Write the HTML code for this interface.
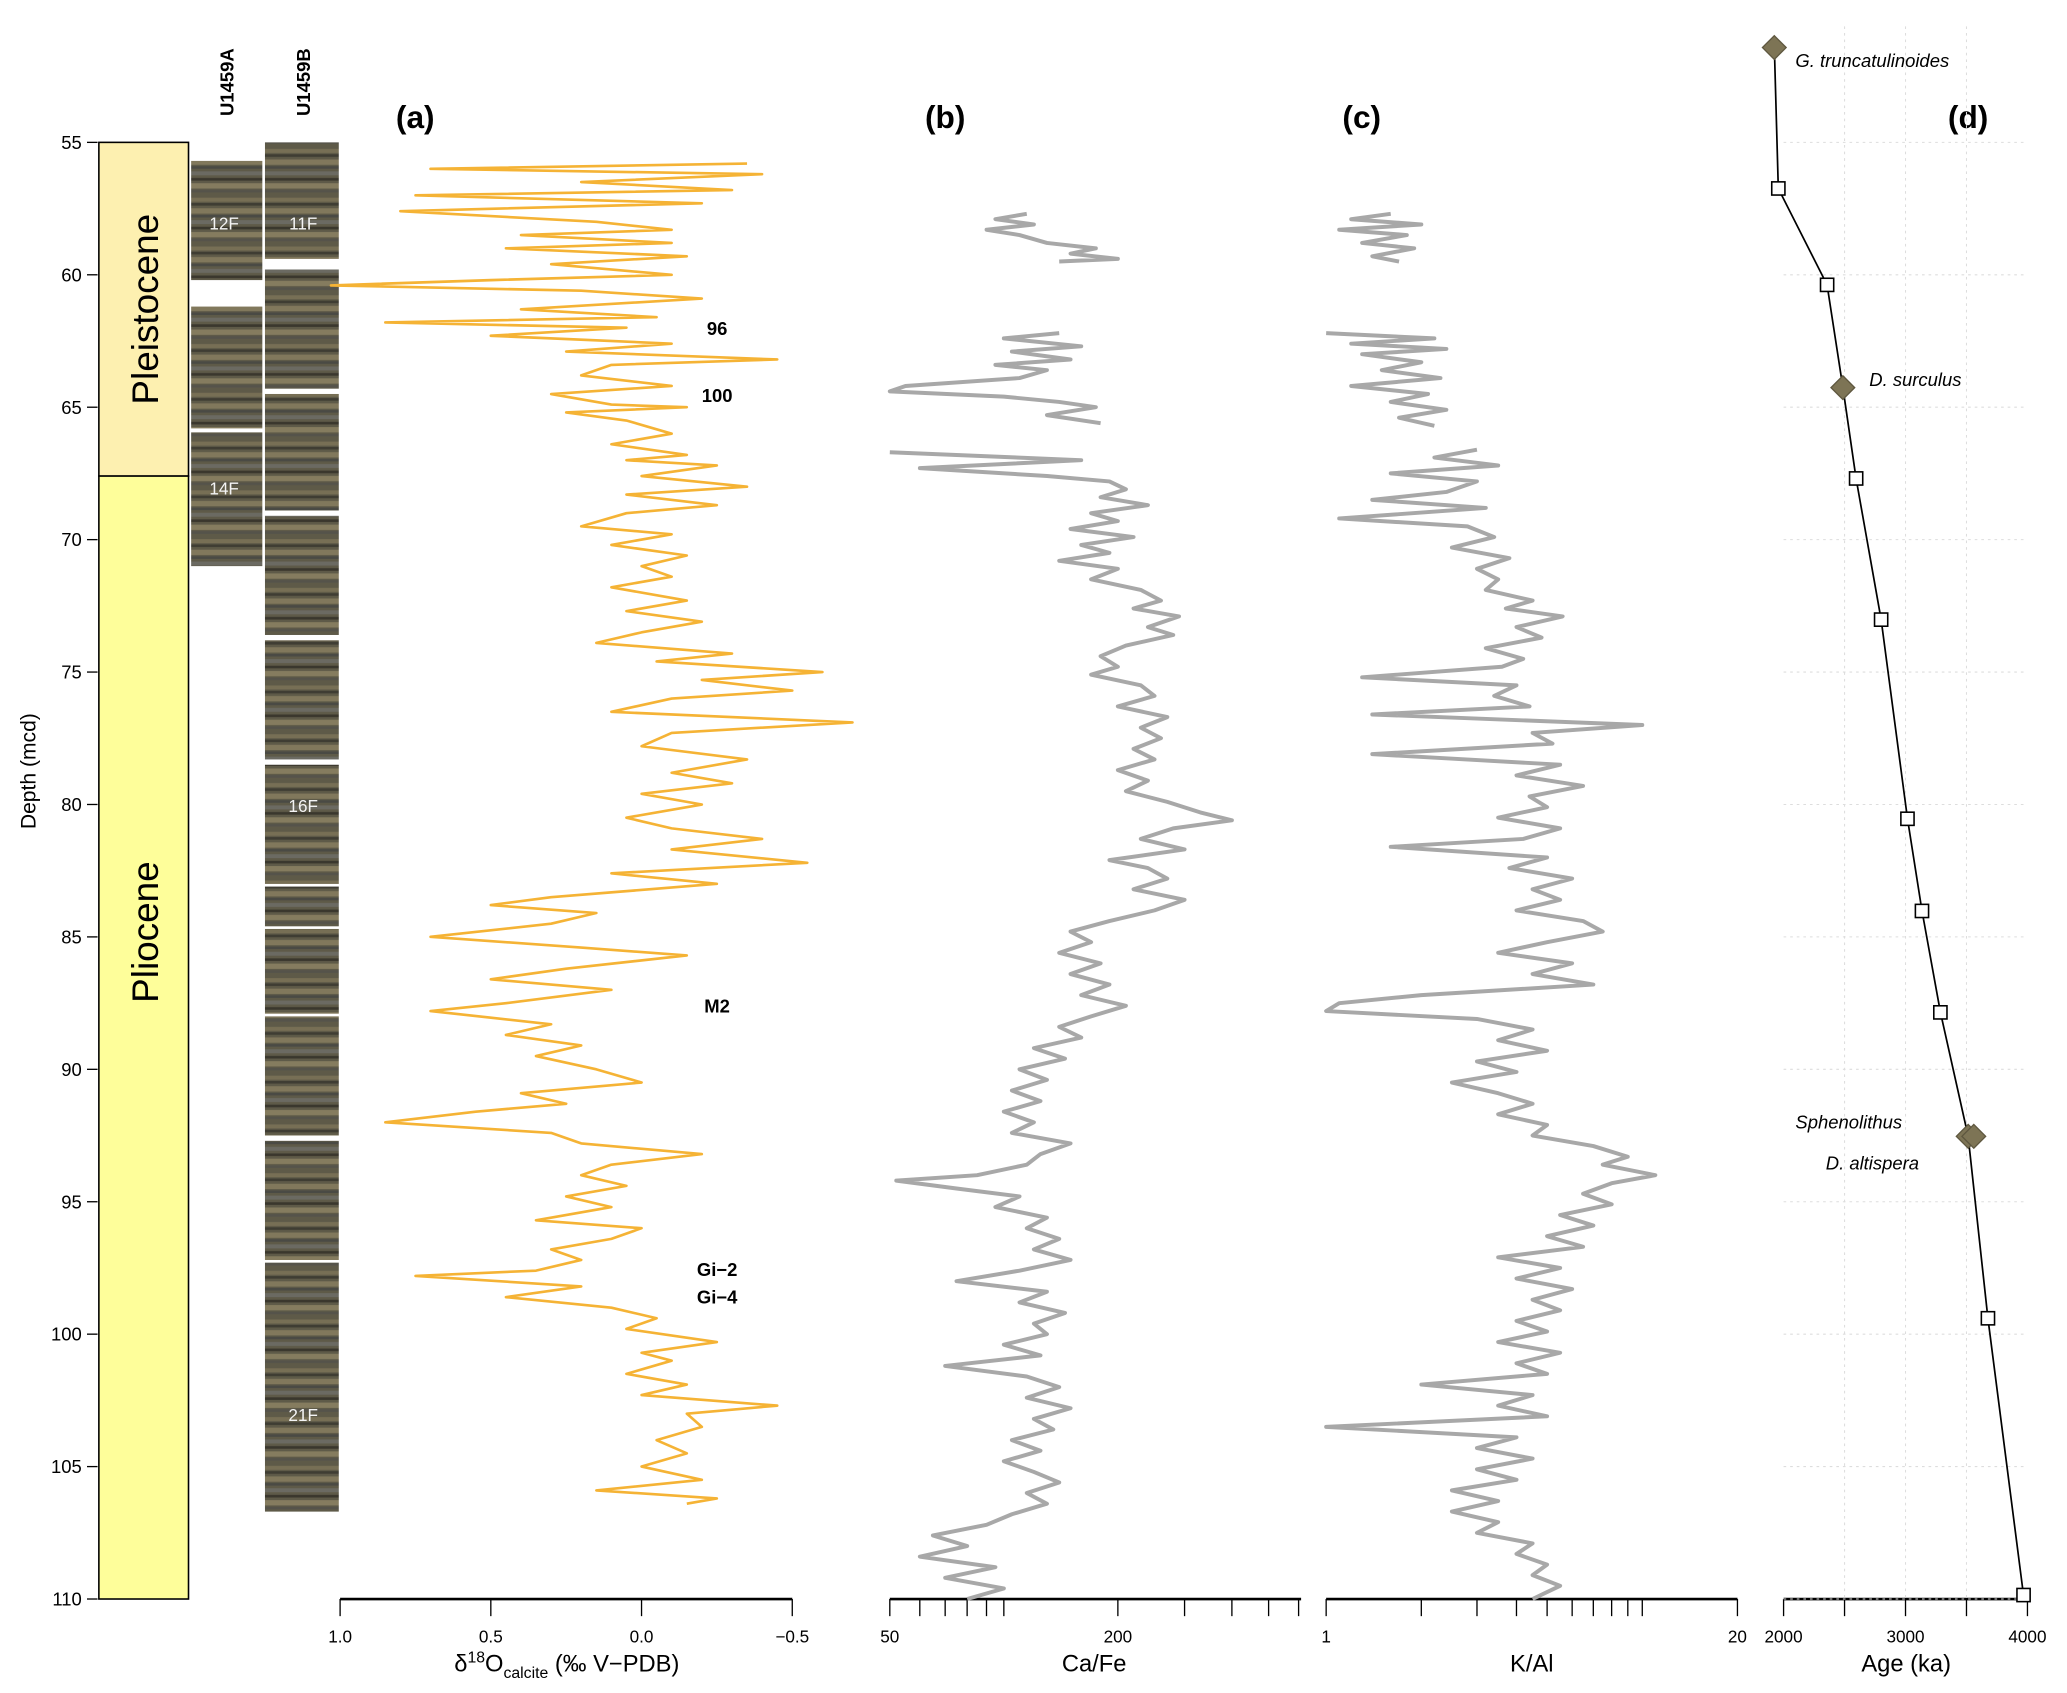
<!DOCTYPE html>
<html><head><meta charset="utf-8"><style>
html,body{margin:0;padding:0;background:#fff;}
svg{display:block;font-family:"Liberation Sans",Arial,sans-serif;}
</style></head><body>
<svg id="chart" xmlns="http://www.w3.org/2000/svg" width="2067" height="1693" viewBox="0 0 1568 1284.3" preserveAspectRatio="none">
<defs>
<pattern id="coreTex" patternUnits="userSpaceOnUse" width="60" height="37">
<rect width="60" height="37" fill="#5e5a48"/>
<rect y="2" width="60" height="3" fill="#776f55"/>
<rect y="6" width="60" height="2" fill="#3f3d33"/>
<rect y="10" width="60" height="4" fill="#81785c"/>
<rect y="15" width="60" height="2" fill="#4a4a44"/>
<rect y="19" width="60" height="3" fill="#6b6a62"/>
<rect y="24" width="60" height="2" fill="#3a372d"/>
<rect y="28" width="60" height="4" fill="#857c5f"/>
<rect y="33" width="60" height="2" fill="#55534a"/>
</pattern>
</defs>
<g id="base"></g>
<g id="plots"></g>
</svg>
<script>
// ---------- data ----------
const o18Depth=[55.8,56.0,56.2,56.5,56.8,57.0,57.3,57.6,58.0,58.3,58.5,58.8,59.0,59.3,59.6,60.0,60.2,60.4,60.6,60.9,61.3,61.6,61.8,62.0,62.3,62.6,62.9,63.2,63.4,63.8,64.2,64.5,64.9,65.0,65.2,65.5,66.0,66.4,66.8,67.0,67.2,67.6,68.0,68.3,68.7,69.0,69.5,69.8,70.2,70.6,71.0,71.4,71.8,72.3,72.7,73.1,73.5,73.9,74.3,74.6,75.0,75.3,75.7,76.0,76.5,76.9,77.3,77.8,78.3,78.8,79.2,79.6,80.0,80.5,80.9,81.3,81.7,82.2,82.6,83.0,83.5,83.8,84.1,84.5,85.0,85.4,85.7,86.2,86.6,87.0,87.5,87.8,88.3,88.7,89.1,89.5,90.0,90.5,90.9,91.3,91.6,92.0,92.4,92.8,93.2,93.6,94.0,94.4,94.8,95.2,95.7,96.0,96.4,96.8,97.2,97.6,97.8,98.2,98.6,99.0,99.4,99.8,100.3,100.7,101.0,101.5,101.9,102.3,102.7,103.0,103.5,104.0,104.5,105.0,105.5,105.9,106.2,106.4];
const o18Value=[-0.35,0.7,-0.4,0.2,-0.3,0.75,-0.2,0.8,0.15,-0.1,0.4,-0.1,0.45,-0.15,0.3,-0.1,0.5,1.03,0.2,-0.2,0.4,-0.05,0.85,0.05,0.5,-0.1,0.25,-0.45,0.1,0.2,-0.1,0.3,0.1,-0.15,0.25,0.05,-0.1,0.1,-0.15,0.05,-0.25,0.0,-0.35,0.05,-0.25,0.05,0.2,-0.1,0.1,-0.15,0.0,-0.1,0.1,-0.15,0.05,-0.2,0.0,0.15,-0.3,-0.05,-0.6,-0.2,-0.5,-0.1,0.1,-0.7,-0.1,0.0,-0.35,-0.1,-0.3,0.0,-0.2,0.05,-0.1,-0.4,-0.1,-0.55,0.1,-0.25,0.3,0.5,0.15,0.3,0.7,0.2,-0.15,0.25,0.5,0.1,0.45,0.7,0.3,0.45,0.2,0.35,0.15,0.0,0.4,0.25,0.55,0.85,0.3,0.2,-0.2,0.1,0.2,0.05,0.25,0.1,0.35,0.0,0.1,0.3,0.2,0.35,0.75,0.2,0.45,0.1,-0.05,0.05,-0.25,0.0,-0.1,0.05,-0.15,0.0,-0.45,-0.15,-0.2,-0.05,-0.15,0.0,-0.2,0.15,-0.25,-0.15];

const caSegDepth=[
[57.7,57.9,58.1,58.3,58.5,58.8,59.0,59.2,59.4,59.5],
[62.2,62.4,62.7,62.9,63.2,63.4,63.6,63.9,64.2,64.4,64.6,64.8,65.0,65.3,65.6],
[66.7,67.0,67.3,67.6,67.8,68.1,68.4,68.7,69.0,69.3,69.6,69.9,70.2,70.5,70.8,71.1,71.5,71.9,72.3,72.6,72.9,73.3,73.6,74.0,74.4,74.8,75.1,75.5,75.9,76.3,76.7,77.1,77.5,77.9,78.3,78.7,79.1,79.5,79.9,80.3,80.6,80.9,81.3,81.7,82.1,82.4,82.8,83.2,83.6,84.0,84.4,84.8,85.2,85.6,86.0,86.4,86.8,87.2,87.6,88.0,88.4,88.8,89.2,89.6,90.0,90.4,90.8,91.2,91.6,92.0,92.4,92.8,93.2,93.6,94.0,94.2,94.5,94.8,95.2,95.6,96.0,96.4,96.8,97.2,97.6,98.0,98.4,98.8,99.2,99.6,100.0,100.4,100.8,101.2,101.6,102.0,102.4,102.8,103.2,103.6,104.0,104.4,104.8,105.2,105.6,106.0,106.4,106.8,107.2,107.6,108.0,108.4,108.8,109.2,109.6,110.0]];
const caSegValue=[
[115,95,120,90,110,130,175,150,200,140],
[140,100,160,105,150,95,130,110,55,50,100,140,175,130,180],
[50,160,60,130,190,210,180,240,170,200,150,220,160,190,140,200,170,230,260,220,290,240,280,210,180,200,170,230,250,200,270,230,260,220,250,200,240,210,270,330,400,280,230,300,190,240,270,220,300,250,190,150,170,140,180,150,190,160,210,170,140,160,120,145,110,130,105,125,100,120,105,150,125,115,85,52,75,110,95,130,115,140,120,150,110,75,130,110,145,120,130,100,125,70,115,140,115,150,120,135,105,125,100,120,140,115,130,105,90,65,80,60,95,70,100,80]];

const kSegDepth=[
[57.7,57.9,58.1,58.3,58.5,58.8,59.0,59.3,59.5],
[62.2,62.4,62.6,62.8,63.0,63.3,63.6,63.9,64.2,64.5,64.8,65.1,65.4,65.7],
[66.6,66.9,67.2,67.5,67.8,68.2,68.5,68.8,69.2,69.5,69.9,70.3,70.7,71.1,71.5,71.9,72.3,72.6,72.9,73.3,73.7,74.1,74.5,74.8,75.2,75.5,75.9,76.3,76.6,77.0,77.3,77.7,78.1,78.5,78.9,79.3,79.7,80.1,80.5,80.9,81.3,81.6,82.0,82.4,82.8,83.2,83.6,84.0,84.4,84.8,85.2,85.6,86.0,86.4,86.8,87.2,87.5,87.8,88.1,88.5,88.9,89.3,89.7,90.1,90.5,90.9,91.3,91.7,92.1,92.5,92.9,93.3,93.6,94.0,94.3,94.7,95.1,95.5,95.9,96.3,96.7,97.1,97.5,97.9,98.3,98.7,99.1,99.5,99.9,100.3,100.7,101.1,101.5,101.9,102.3,102.7,103.1,103.5,103.9,104.3,104.7,105.1,105.5,105.9,106.3,106.7,107.1,107.5,107.9,108.3,108.7,109.1,109.5,110.0]];
const kSegValue=[
[1.6,1.2,2.0,1.1,1.8,1.3,1.9,1.4,1.7],
[1.0,2.2,1.2,2.4,1.3,2.0,1.5,2.3,1.2,2.1,1.6,2.4,1.7,2.2],
[3.0,2.2,3.5,1.6,3.0,2.4,1.4,3.2,1.1,2.8,3.4,2.5,3.8,3.0,3.5,3.2,4.5,3.7,5.6,4.0,4.8,3.2,4.2,3.6,1.3,4.0,3.4,4.4,1.4,10,4.5,5.2,1.4,5.5,4.0,6.5,4.4,5.0,3.5,5.5,4.2,1.6,5.0,3.8,6.0,4.5,5.5,4.0,6.5,7.5,5.0,3.5,6.0,4.5,7.0,2.0,1.1,1.0,3.0,4.5,3.5,5.0,3.0,4.0,2.5,3.5,4.5,3.5,5.0,4.5,7.0,9.0,7.5,11,8.0,6.5,8.0,5.5,7.0,5.0,6.5,3.5,5.5,4.0,6.0,4.5,5.5,4.0,5.0,3.5,5.5,4.0,5.0,2.0,4.5,3.5,5.0,1.0,4.0,3.0,4.5,3.0,4.0,2.5,3.5,2.5,3.5,3.0,4.5,4.0,5.0,4.5,5.5,4.5]];

const ageDepth=[51.42,56.74,60.38,64.26,67.69,73.02,80.54,84.02,87.85,92.53,99.40,109.85];
const ageValue=[1924,1957,2357,2486,2595,2800,3016,3135,3286,3514,3676,3968];
const ageType=["d","s","s","d","s","s","s","s","s","d","s","s"];

const depthTicks=[55,60,65,70,75,80,85,90,95,100,105,110];
const o18Ticks=[1.0,0.5,0.0,-0.5];
const o18TickLabels=["1.0","0.5","0.0","\u22120.5"];
const caTicks=[50,60,70,80,90,100,200,300,400,500,600];
const caLabelled=[50,200];
const kTicks=[1,2,3,4,5,6,7,8,9,10,20];
const kLabelled=[1,20];
const ageTicks=[2000,2500,3000,3500,4000];
const ageLabelled=[2000,3000,4000];

// ---------- scales (display units) ----------
const Y=d=>108+(d-55)*(1213-108)/55;
const Xo=v=>258+(1.0-v)/1.5*(601-258);
const Xc=v=>675+173*Math.log(v/50)/Math.log(4);
const Xk=v=>1006+312*Math.log(v)/Math.log(20);
const Xa=v=>1353+(v-2000)*185/2000;

const NS="http://www.w3.org/2000/svg";
const base=document.getElementById('base');
const plots=document.getElementById('plots');
function mk(tag,attrs,parent,text){const e=document.createElementNS(NS,tag);for(const k in attrs)e.setAttribute(k,attrs[k]);if(text!==undefined)e.textContent=text;parent.appendChild(e);return e;}

// epoch column
let e=mk('rect',{x:75,y:108,width:68,height:Y(67.6)-108,fill:'#fdf0b0',stroke:'#000','stroke-width':1.2},base);


e=mk('rect',{x:75,y:Y(67.6),width:68,height:1213-Y(67.6),fill:'#fefe9a',stroke:'#000','stroke-width':1.2},base);


e=mk('text',{x:0,y:0,transform:`translate(120,${(108+Y(67.6))/2}) rotate(-90)`,'text-anchor':'middle','font-size':28},base,'Pleistocene');


e=mk('text',{x:0,y:0,transform:`translate(120,${(Y(67.6)+1213)/2-80}) rotate(-90)`,'text-anchor':'middle','font-size':28},base,'Pliocene');



// cores
const coreA=[[55.7,60.2],[61.2,65.8],[65.95,71.0]];
const coreB=[[55,59.4],[59.8,64.3],[64.5,68.9],[69.1,73.6],[73.8,78.3],[78.5,83.0],[83.1,84.6],[84.7,87.9],[88.0,92.5],[92.7,97.2],[97.3,106.7]];
coreA.forEach(s=>{const r=mk('rect',{x:145,y:Y(s[0]),width:54,height:Y(s[1])-Y(s[0]),fill:'url(#coreTex)'},base);

});
coreB.forEach(s=>{const r=mk('rect',{x:201,y:Y(s[0]),width:56,height:Y(s[1])-Y(s[0]),fill:'url(#coreTex)'},base);

});
[[170,174,'12F'],[230,174,'11F'],[170,375,'14F'],[230,616,'16F'],[230,1078,'21F']].forEach(c=>{const t=mk('text',{x:c[0],y:c[1],'text-anchor':'middle','font-size':13,fill:'#f4f4f4'},base,c[2]);

});
e=mk('text',{x:0,y:0,transform:'translate(177,88) rotate(-90)','font-size':14,'font-weight':'bold'},base,'U1459A');


e=mk('text',{x:0,y:0,transform:'translate(235,88) rotate(-90)','font-size':14,'font-weight':'bold'},base,'U1459B');



// depth axis
depthTicks.forEach(d=>{const l=mk('line',{x1:66,x2:74,y1:Y(d),y2:Y(d),stroke:'#000','stroke-width':1},base);


const t=mk('text',{x:62,y:Y(d)+5,'text-anchor':'end','font-size':14},base,String(d));

});
e=mk('text',{x:0,y:0,transform:'translate(27,585) rotate(-90)','text-anchor':'middle','font-size':16},base,'Depth (mcd)');



// bottom axes helper
function axis(x1,x2,ticks,X,labels,name){
 const l=mk('line',{x1:x1,x2:x2,y1:1213,y2:1213,stroke:'#000','stroke-width':2},base);
 
 
 ticks.forEach(v=>{const t=mk('line',{x1:X(v),x2:X(v),y1:1213,y2:1226,stroke:'#000','stroke-width':1},base);
 
 });
 labels.forEach(p=>{const t=mk('text',{x:X(p[0]),y:1246,'text-anchor':'middle','font-size':13},base,p[1]);
 
 });
}
axis(258,601,o18Ticks,Xo,o18Ticks.map((v,i)=>[v,o18TickLabels[i]]),'d18o');
axis(675,987,caTicks,Xc,caLabelled.map(v=>[v,String(v)]),'cafe');
axis(1006,1318,kTicks,Xk,kLabelled.map(v=>[v,String(v)]),'kal');
axis(1353,1538,ageTicks,Xa,ageLabelled.map(v=>[v,String(v)]),'age');

e=mk('text',{x:430,y:1268,'text-anchor':'middle','font-size':18},base);
e.innerHTML='δ<tspan dy="-7" font-size="12">18</tspan><tspan dy="7">O</tspan><tspan dy="5" font-size="12">calcite</tspan><tspan dy="-5"> (‰ V−PDB)</tspan>';


[[830,'Ca/Fe','cafe-axis-title'],[1162,'K/Al','kal-axis-title'],[1446,'Age (ka)','age-axis-title']].forEach(a=>{const t=mk('text',{x:a[0],y:1268,'text-anchor':'middle','font-size':18},base,a[1]);

});
[[315,'(a)'],[717,'(b)'],[1033,'(c)'],[1493,'(d)']].forEach(p=>{const t=mk('text',{x:p[0],y:97,'text-anchor':'middle','font-size':24,'font-weight':'bold'},base,p[1]);

});

// age panel grid
ageTicks.slice(1,4).forEach(v=>{const l=mk('line',{x1:Xa(v),x2:Xa(v),y1:20,y2:1213,stroke:'#ddd','stroke-width':0.8,'stroke-dasharray':'2,3'},base);

});
depthTicks.forEach(d=>{const l=mk('line',{x1:1353,x2:1538,y1:Y(d),y2:Y(d),stroke:'#ddd','stroke-width':0.8,'stroke-dasharray':'2,3'},base);

});

// series
function pathStr(ds,vs,X){return ds.map((d,i)=>(i?'L':'M')+X(vs[i]).toFixed(1)+','+Y(d).toFixed(1)).join('');}
e=mk('path',{d:pathStr(o18Depth,o18Value,Xo),fill:'none',stroke:'#f5b335','stroke-width':2,'stroke-linejoin':'round'},plots);


caSegDepth.forEach((ds,i)=>{const p=mk('path',{d:pathStr(ds,caSegValue[i],Xc),fill:'none',stroke:'#a8a8a8','stroke-width':3,'stroke-linejoin':'round'},plots);

});
kSegDepth.forEach((ds,i)=>{const p=mk('path',{d:pathStr(ds,kSegValue[i],Xk),fill:'none',stroke:'#a8a8a8','stroke-width':3,'stroke-linejoin':'round'},plots);

});

// age model
e=mk('path',{d:pathStr(ageDepth,ageValue,Xa),fill:'none',stroke:'#000','stroke-width':1.3},plots);


ageDepth.forEach((d,i)=>{const x=Xa(ageValue[i]),y=Y(d);
 if(ageType[i]==='s'){const r=mk('rect',{x:x-5,y:y-5,width:10,height:10,fill:'#fff',stroke:'#000','stroke-width':1.2},plots);
 
 }
 else{const p=mk('polygon',{points:`${x},${y-9} ${x+9},${y} ${x},${y+9} ${x-9},${y}`,fill:'#7d7455',stroke:'#5e573f','stroke-width':1},plots);
 
 }
});
e=mk('polygon',{points:`${Xa(3560)},${Y(92.53)-9} ${Xa(3560)+9},${Y(92.53)} ${Xa(3560)},${Y(92.53)+9} ${Xa(3560)-9},${Y(92.53)}`,fill:'#7d7455',stroke:'#5e573f','stroke-width':1},plots);


[[1362,51,'G. truncatulinoides'],[1418,293,'D. surculus'],[1362,856,'Sphenolithus'],[1385,887,'D. altispera']].forEach(a=>{const t=mk('text',{x:a[0],y:a[1],'font-size':14,'font-style':'italic'},plots,a[2]);

});

// event labels
[[254,'96'],[305,'100'],[768,'M2'],[968,'Gi\u22122'],[989,'Gi\u22124']].forEach(a=>{const t=mk('text',{x:544,y:a[0],'text-anchor':'middle','font-size':14,'font-weight':'bold'},plots,a[1]);

});
</script>
</body></html>
